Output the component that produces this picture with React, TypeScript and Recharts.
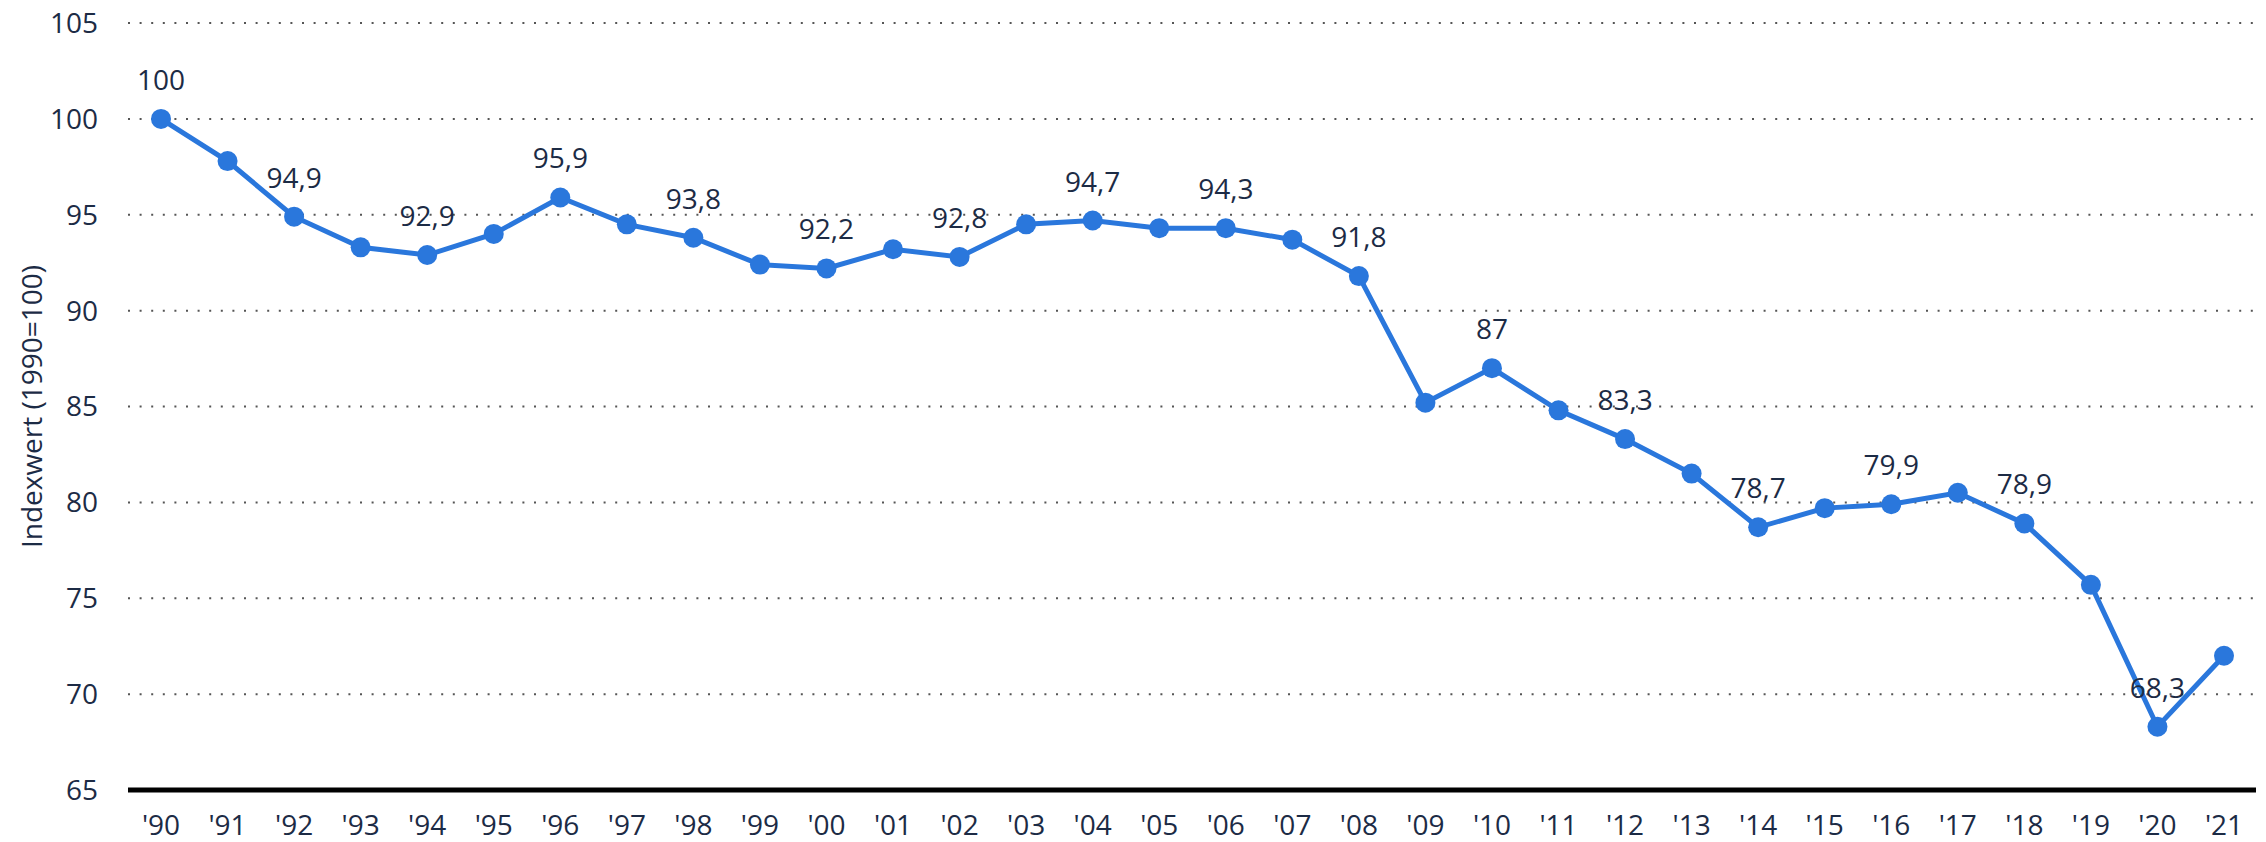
import { LineChart, Line, XAxis, YAxis, CartesianGrid, LabelList, Label } from "recharts";

// Index values (1990 = 100), one per year from 1990 to 2021
const YEARS = [
  "'90", "'91", "'92", "'93", "'94", "'95", "'96", "'97", "'98", "'99",
  "'00", "'01", "'02", "'03", "'04", "'05", "'06", "'07", "'08", "'09",
  "'10", "'11", "'12", "'13", "'14", "'15", "'16", "'17", "'18", "'19",
  "'20", "'21",
];

const VALUES = [
  100, 97.8, 94.9, 93.3, 92.9, 94.0, 95.9, 94.5, 93.8, 92.4,
  92.2, 93.2, 92.8, 94.5, 94.7, 94.3, 94.3, 93.7, 91.8, 85.2,
  87, 84.8, 83.3, 81.5, 78.7, 79.7, 79.9, 80.5, 78.9, 75.7,
  68.3, 72.0,
];

// only these years carry a value label in the original
const LABELLED_YEARS = [
  "'90", "'92", "'94", "'96", "'98", "'00", "'02", "'04",
  "'06", "'08", "'10", "'12", "'14", "'16", "'18", "'20",
];

const Y_TICKS = [65, 70, 75, 80, 85, 90, 95, 100, 105];

const BLUE = "#2a77dc";
const NAVY = "#1c2b45";
const FONT = "'Open Sans', sans-serif";

const data = YEARS.map((year, i) => ({
  year,
  value: VALUES[i],
  label: LABELLED_YEARS.includes(year) ? VALUES[i] : null,
}));

const fmt = (v: any) => (v == null ? "" : String(v).replace(".", ","));

export default function App() {
  return (
    <div style={{ position: "absolute", left: 0, top: 0, fontFamily: FONT, background: "#fff" }}>
      <LineChart
        width={2266}
        height={842}
        data={data}
        margin={{ top: 23, right: 10, bottom: 0, left: 0 }}
      >
        <CartesianGrid
          vertical={false}
          stroke="#555"
          strokeWidth={2}
          strokeDasharray="2 9.6"
        />
        <XAxis
          dataKey="year"
          height={52}
          padding={{ left: 33, right: 32 }}
          axisLine={{ stroke: "#000", strokeWidth: 5 }}
          tickLine={false}
          tickSize={0}
          tickMargin={25}
          interval={0}
          tick={{ fill: NAVY, fontSize: 28, fontFamily: FONT }}
        />
        <YAxis
          width={128}
          domain={[65, 105]}
          ticks={Y_TICKS}
          axisLine={false}
          tickLine={false}
          tickSize={0}
          tickMargin={30}
          tick={{ fill: NAVY, fontSize: 28, fontFamily: FONT }}
        >
          <Label
            content={({ viewBox }: any) => {
              const cx = viewBox.x + 31;
              const cy = viewBox.y + viewBox.height / 2;
              return (
                <text
                  x={cx}
                  y={cy}
                  transform={`rotate(-90, ${cx}, ${cy})`}
                  textAnchor="middle"
                  dominantBaseline="central"
                  fill={NAVY}
                  fontSize={28}
                  fontFamily={FONT}
                >
                  Indexwert (1990=100)
                </text>
              );
            }}
          />
        </YAxis>
        <Line
          type="linear"
          dataKey="value"
          stroke={BLUE}
          strokeWidth={5}
          dot={{ r: 10, fill: BLUE, stroke: "none" }}
          activeDot={false}
          isAnimationActive={false}
        >
          <LabelList
            dataKey="label"
            position="top"
            offset={29}
            formatter={fmt}
            fill={NAVY}
            fontSize={28}
            fontFamily={FONT}
          />
        </Line>
      </LineChart>
    </div>
  );
}
